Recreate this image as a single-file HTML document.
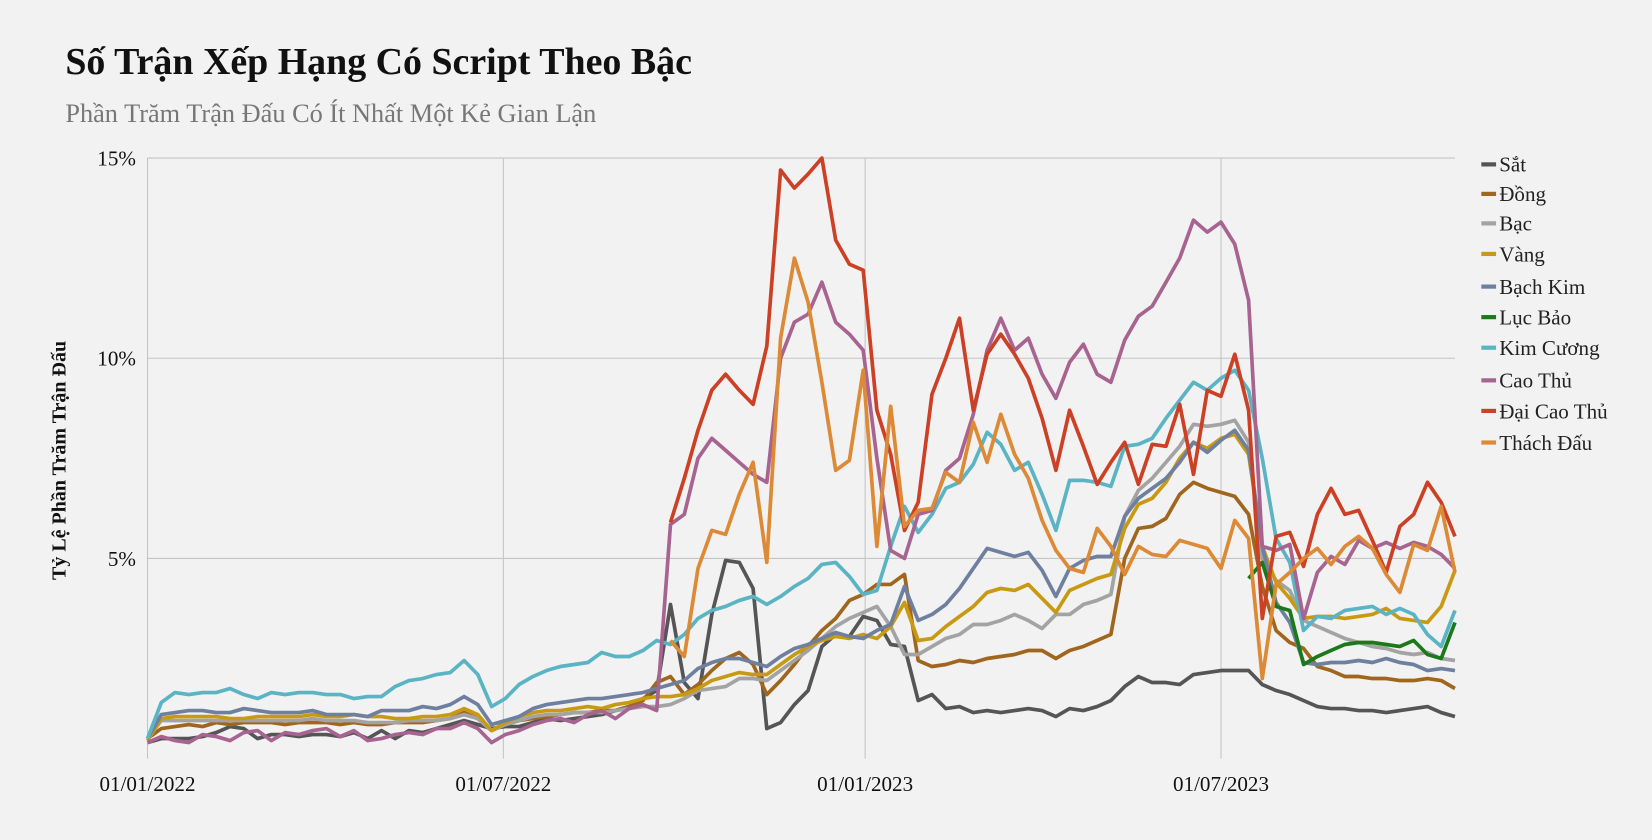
<!DOCTYPE html>
<html><head><meta charset="utf-8"><style>
body{margin:0;background:#f2f2f2;width:1652px;height:835px;overflow:hidden;font-family:"Liberation Serif",serif}
svg text{font-family:"Liberation Serif",serif}
</style></head><body>
<svg id="chart" width="1652" height="835" viewBox="0 0 1568 792.5" xmlns="http://www.w3.org/2000/svg">
<rect width="1568" height="792.5" fill="#f2f2f2"/>
<text x="62" y="70" font-size="36" font-weight="bold" fill="#111">Số Trận Xếp Hạng Có Script Theo Bậc</text>
<text x="62" y="116" font-size="25" fill="#777">Phần Trăm Trận Đấu Có Ít Nhất Một Kẻ Gian Lận</text>
<text transform="translate(62,437) rotate(-90)" text-anchor="middle" font-size="19" font-weight="bold" fill="#111">Tỷ Lệ Phần Trăm Trận Đấu</text>
<g id="grid"></g><g id="lines"></g><g id="legend"></g>
</svg>
<script>
const yTicks=[5,10,15];
const yTickLabels=["5%","10%","15%"];
const xTickDates=["2022-01-01","2022-07-01","2023-01-01","2023-07-01"];
const xTickLabels=["01/01/2022","01/07/2022","01/01/2023","01/07/2023"];
const startDate="2022-01-01";
const seriesNames=["Sắt","Đồng","Bạc","Vàng","Bạch Kim","Lục Bảo","Kim Cương","Cao Thủ","Đại Cao Thủ","Thách Đấu"];
const seriesColors=["#555555","#a0661e","#a3a3a3","#c89a14","#6e7fa0","#1a7a1a","#5ab4c4","#a86490","#cc4125","#dd8a36"];
const N=null;
const sat=[0.4,0.5,0.5,0.5,0.55,0.65,0.8,0.75,0.5,0.6,0.6,0.55,0.6,0.6,0.55,0.65,0.5,0.7,0.5,0.7,0.65,0.75,0.85,0.95,0.85,0.75,0.8,0.8,0.9,1.0,0.95,1.0,1.05,1.1,1.2,1.3,1.5,1.7,3.85,1.9,1.5,3.6,4.95,4.9,4.25,0.75,0.9,1.35,1.7,2.8,3.1,3.05,3.55,3.45,2.85,2.8,1.45,1.6,1.25,1.3,1.15,1.2,1.15,1.2,1.25,1.2,1.05,1.25,1.2,1.3,1.45,1.8,2.05,1.9,1.9,1.85,2.1,2.15,2.2,2.2,2.2,1.85,1.7,1.6,1.45,1.3,1.25,1.25,1.2,1.2,1.15,1.2,1.25,1.3,1.15,1.05];
const dong=[0.5,0.75,0.8,0.85,0.8,0.9,0.85,0.9,0.9,0.9,0.85,0.9,0.9,0.9,0.85,0.9,0.85,0.85,0.9,0.9,0.9,0.95,1.0,1.15,1.0,0.7,0.85,0.95,1.0,1.05,1.1,1.15,1.15,1.2,1.2,1.3,1.45,1.9,2.05,1.6,1.85,2.2,2.5,2.65,2.35,1.6,1.95,2.35,2.8,3.2,3.5,3.95,4.1,4.35,4.35,4.6,2.45,2.3,2.35,2.45,2.4,2.5,2.55,2.6,2.7,2.7,2.5,2.7,2.8,2.95,3.1,5.0,5.75,5.8,6.0,6.6,6.9,6.75,6.65,6.55,6.1,4.3,3.2,2.9,2.75,2.3,2.2,2.05,2.05,2.0,2.0,1.95,1.95,2.0,1.95,1.75];
const bac=[0.5,0.95,0.95,0.95,0.95,0.95,0.95,0.95,0.95,0.95,0.95,0.95,1.0,0.95,0.95,0.95,0.9,0.9,0.9,0.95,0.95,0.95,1.0,1.1,1.0,0.7,0.85,0.95,1.05,1.1,1.1,1.15,1.15,1.15,1.2,1.25,1.3,1.3,1.35,1.5,1.7,1.75,1.8,2.0,2.0,1.95,2.2,2.45,2.7,3.0,3.3,3.5,3.65,3.8,3.3,2.6,2.6,2.8,3.0,3.1,3.35,3.35,3.45,3.6,3.45,3.25,3.6,3.6,3.85,3.95,4.1,6.05,6.7,7.0,7.4,7.8,8.35,8.3,8.35,8.45,7.9,5.0,4.45,4.2,3.45,3.3,3.15,3.0,2.9,2.8,2.75,2.65,2.6,2.65,2.5,2.45];
const vang=[0.45,1.0,1.05,1.05,1.05,1.05,1.0,1.0,1.05,1.05,1.05,1.05,1.1,1.05,1.05,1.1,1.05,1.05,1.0,1.0,1.05,1.05,1.1,1.25,1.1,0.7,0.9,1.05,1.15,1.2,1.2,1.25,1.3,1.25,1.35,1.4,1.5,1.55,1.55,1.6,1.75,1.95,2.05,2.15,2.1,2.1,2.35,2.6,2.8,2.95,3.05,3.0,3.1,3.0,3.3,3.9,2.95,3.0,3.3,3.55,3.8,4.15,4.25,4.2,4.35,4.0,3.65,4.2,4.35,4.5,4.6,5.75,6.35,6.5,6.9,7.5,7.9,7.75,8.0,8.1,7.6,5.3,4.4,4.0,3.5,3.55,3.55,3.5,3.55,3.6,3.75,3.5,3.45,3.4,3.8,4.7];
const bachKim=[0.5,1.1,1.15,1.2,1.2,1.15,1.15,1.25,1.2,1.15,1.15,1.15,1.2,1.1,1.1,1.1,1.05,1.2,1.2,1.2,1.3,1.25,1.35,1.55,1.35,0.85,0.95,1.05,1.25,1.35,1.4,1.45,1.5,1.5,1.55,1.6,1.65,1.75,1.85,1.95,2.25,2.4,2.5,2.5,2.4,2.3,2.55,2.75,2.85,3.0,3.15,3.05,3.0,3.2,3.35,4.3,3.45,3.6,3.85,4.25,4.75,5.25,5.15,5.05,5.15,4.7,4.05,4.75,4.95,5.05,5.05,6.05,6.5,6.75,7.0,7.4,7.9,7.65,7.95,8.2,7.7,5.3,3.9,3.4,2.4,2.35,2.4,2.4,2.45,2.4,2.5,2.4,2.35,2.2,2.25,2.2];
const lucBao=[N,N,N,N,N,N,N,N,N,N,N,N,N,N,N,N,N,N,N,N,N,N,N,N,N,N,N,N,N,N,N,N,N,N,N,N,N,N,N,N,N,N,N,N,N,N,N,N,N,N,N,N,N,N,N,N,N,N,N,N,N,N,N,N,N,N,N,N,N,N,N,N,N,N,N,N,N,N,N,N,4.5,4.9,3.8,3.7,2.35,2.55,2.7,2.85,2.9,2.9,2.85,2.8,2.95,2.6,2.5,3.4];
const kimCuong=[0.5,1.4,1.65,1.6,1.65,1.65,1.75,1.6,1.5,1.65,1.6,1.65,1.65,1.6,1.6,1.5,1.55,1.55,1.8,1.95,2.0,2.1,2.15,2.45,2.1,1.3,1.5,1.85,2.05,2.2,2.3,2.35,2.4,2.65,2.55,2.55,2.7,2.95,2.85,3.1,3.5,3.7,3.8,3.95,4.05,3.85,4.05,4.3,4.5,4.85,4.9,4.55,4.1,4.2,5.3,6.3,5.65,6.1,6.75,6.9,7.35,8.15,7.85,7.2,7.4,6.6,5.7,6.95,6.95,6.9,6.8,7.8,7.85,8.0,8.5,8.95,9.4,9.2,9.5,9.7,9.2,7.5,5.5,4.9,3.2,3.55,3.5,3.7,3.75,3.8,3.6,3.75,3.6,3.1,2.8,3.7];
const caoThu=[0.4,0.55,0.45,0.4,0.6,0.55,0.45,0.65,0.7,0.45,0.65,0.6,0.7,0.75,0.55,0.7,0.45,0.5,0.6,0.65,0.6,0.75,0.75,0.9,0.75,0.4,0.6,0.7,0.85,0.95,1.0,0.9,1.1,1.2,1.0,1.25,1.35,1.2,5.85,6.1,7.5,8.0,7.7,7.4,7.1,6.9,10.0,10.9,11.1,11.9,10.9,10.6,10.2,7.5,5.2,5.0,6.1,6.2,7.2,7.5,8.6,10.2,11.0,10.2,10.5,9.6,9.0,9.9,10.35,9.6,9.4,10.45,11.05,11.3,11.9,12.5,13.45,13.15,13.4,12.85,11.45,5.3,5.2,5.35,3.5,4.65,5.05,4.85,5.45,5.25,5.4,5.25,5.4,5.3,5.1,4.75];
const daiCaoThu=[N,N,N,N,N,N,N,N,N,N,N,N,N,N,N,N,N,N,N,N,N,N,N,N,N,N,N,N,N,N,N,N,N,N,N,N,N,N,5.9,7.0,8.2,9.2,9.6,9.2,8.85,10.3,14.7,14.25,14.6,15.0,12.95,12.35,12.2,8.7,7.6,5.7,6.4,9.1,10.0,11.0,8.7,10.1,10.6,10.1,9.5,8.5,7.2,8.7,7.8,6.85,7.4,7.9,6.85,7.85,7.8,8.85,7.1,9.2,9.05,10.1,8.7,3.5,5.55,5.65,4.8,6.1,6.75,6.1,6.2,5.45,4.65,5.8,6.1,6.9,6.4,5.55];
const thachDau=[N,N,N,N,N,N,N,N,N,N,N,N,N,N,N,N,N,N,N,N,N,N,N,N,N,N,N,N,N,N,N,N,N,N,N,N,N,N,2.95,2.55,4.75,5.7,5.6,6.6,7.4,4.9,10.5,12.5,11.4,9.4,7.2,7.45,9.7,5.3,8.8,5.8,6.2,6.25,7.15,6.9,8.4,7.4,8.6,7.6,7.0,5.95,5.2,4.75,4.65,5.75,5.3,4.6,5.3,5.1,5.05,5.45,5.35,5.25,4.75,5.95,5.5,2.0,4.35,4.65,5.0,5.25,4.85,5.3,5.55,5.25,4.6,4.15,5.35,5.2,6.3,4.65];
const seriesData=[sat,dong,bac,vang,bachKim,lucBao,kimCuong,caoThu,daiCaoThu,thachDau];

const X0=140,X1=1381,Y0=720,Y1=150,NPTS=96;
const DAY=86400000,t0=Date.parse(startDate);
const spanDays=(NPTS-1)*7;
function xDate(s){return X0+(Date.parse(s)-t0)/DAY/spanDays*(X1-X0);}
function xIdx(i){return X0+i*7/spanDays*(X1-X0);}
function y(v){return Y0-v/15*(Y0-Y1);}
const NS="http://www.w3.org/2000/svg";
function mk(tag,attrs,parent){const e=document.createElementNS(NS,tag);for(const k in attrs)e.setAttribute(k,attrs[k]);parent.appendChild(e);return e;}
const grid=document.getElementById('grid');
yTicks.forEach((t,k)=>{
  const l=mk('line',{x1:X0,x2:X1,y1:y(t),y2:y(t),stroke:'#c4c4c4','stroke-width':1},grid);
  
  
  const tx=mk('text',{x:129,y:y(t)+7,'text-anchor':'end','font-size':20,fill:'#111'},grid);
  tx.textContent=yTickLabels[k];
  
  
});
xTickDates.forEach((d,k)=>{
  const xx=xDate(d);
  const l=mk('line',{x1:xx,x2:xx,y1:Y1,y2:Y0,stroke:'#c4c4c4','stroke-width':1},grid);
  
  
  const tx=mk('text',{x:xx,y:751,'text-anchor':'middle','font-size':20,fill:'#111'},grid);
  tx.textContent=xTickLabels[k];
  
  
});
const lines=document.getElementById('lines');
seriesData.forEach((arr,s)=>{
  let d='',pen=false;
  arr.forEach((v,i)=>{
    if(v===null||v===undefined){pen=false;return;}
    d+=(pen?'L':'M')+xIdx(i).toFixed(1)+','+y(v).toFixed(1);pen=true;
  });
  const p=mk('path',{d:d,fill:'none',stroke:seriesColors[s],'stroke-width':3.5,'stroke-linejoin':'round'},lines);
  
  
});
const lg=document.getElementById('legend');
const lgY=[156,184,212,241,272,301,330,361,390,420];
seriesNames.forEach((n,s)=>{
  const g=mk('g',{},lg);
  
  
  mk('line',{x1:1406,x2:1420,y1:lgY[s],y2:lgY[s],stroke:seriesColors[s],'stroke-width':4},g);
  const t=mk('text',{x:1423,y:lgY[s]+7,'font-size':20,fill:'#222'},g);
  t.textContent=n;
});
</script>
</body></html>
